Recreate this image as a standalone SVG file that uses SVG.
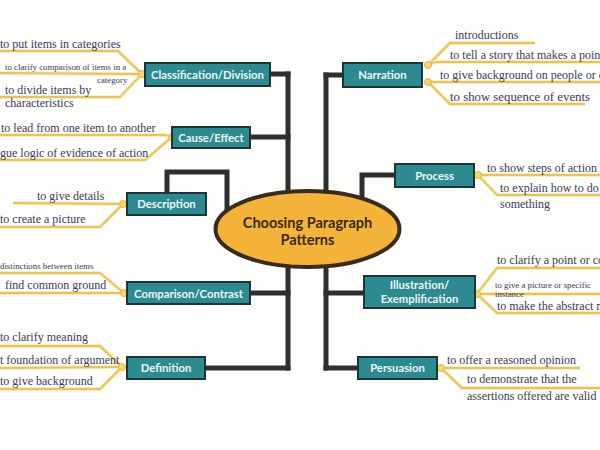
<svg xmlns="http://www.w3.org/2000/svg" width="600" height="450" viewBox="0 0 600 450">
<style>
.bg{fill:#fdfdfc}
.conn{fill:none;stroke:#2e2e2e;stroke-width:5;stroke-linejoin:miter;stroke-linecap:square}
.br{fill:none;stroke:#e5c35f;stroke-width:1.8;stroke-linejoin:round}
.glow{fill:none;stroke:#f8ecc4;stroke-width:4;stroke-linejoin:round}
.jn{fill:#f6d774;stroke:#e0b548;stroke-width:1}
.box{fill:#2c8a90;stroke:#1d3536;stroke-width:2}
.bt{font-family:Lato,"Open Sans",sans-serif;font-weight:bold;font-size:11.3px;fill:#eef7f6;text-anchor:middle}
.t{font-family:"Liberation Serif","Times New Roman",serif;font-size:12px;fill:#3c3c55}
.s{font-family:"Liberation Serif","Times New Roman",serif;font-size:8.8px;fill:#3c3c55}
.ct{font-family:Lato,"Open Sans",sans-serif;font-weight:bold;font-size:14.5px;fill:#3a2a18;text-anchor:middle}
</style>
<rect class="bg" x="0" y="0" width="600" height="450"/>

<g id="connectors">
<path class="conn" d="M288,74 V368"/>
<path class="conn" d="M270,74 H288"/>
<path class="conn" d="M250,137 H288"/>
<path class="conn" d="M250,293 H288"/>
<path class="conn" d="M205,368 H288"/>
<path class="conn" d="M167,193 V172 H227 V208"/>
<path class="conn" d="M326,75 V368"/>
<path class="conn" d="M343,75 H326"/>
<path class="conn" d="M364,293 H326"/>
<path class="conn" d="M358,368 H326"/>
<path class="conn" d="M395,175 H362 V202"/>
</g>

<g id="branches">
<polyline class="glow" points="0,51 118,51 142,74"/>
<polyline class="glow" points="0,73 142,74"/>
<polyline class="glow" points="0,97 120,97 142,74"/>
<polyline class="glow" points="0,135 165,135 172,137"/>
<polyline class="glow" points="0,160 145,160 172,137"/>
<polyline class="glow" points="13,203 123,204"/>
<polyline class="glow" points="0,227 100,227 123,204"/>
<polyline class="glow" points="0,273 100,273 124,293"/>
<polyline class="glow" points="0,293 124,293"/>
<polyline class="glow" points="0,346 100,346 122,367"/>
<polyline class="glow" points="0,368 122,367"/>
<polyline class="glow" points="0,389 100,389 122,367"/>
<polyline class="glow" points="428,65 450,43 535,43"/>
<polyline class="glow" points="428,65 436,62 600,62"/>
<polyline class="glow" points="428,82 600,82"/>
<polyline class="glow" points="428,82 450,104 585,104"/>
<polyline class="glow" points="478,175 600,175"/>
<polyline class="glow" points="478,175 497,195 600,195"/>
<polyline class="glow" points="477,294 497,268 600,268"/>
<polyline class="glow" points="477,294 600,294"/>
<polyline class="glow" points="477,294 497,313 600,313"/>
<polyline class="glow" points="441,368 580,368"/>
<polyline class="glow" points="441,368 462,388 600,388"/>
<polyline class="br" points="0,51 118,51 142,74"/>
<polyline class="br" points="0,73 142,74"/>
<polyline class="br" points="0,97 120,97 142,74"/>
<polyline class="br" points="0,135 165,135 172,137"/>
<polyline class="br" points="0,160 145,160 172,137"/>
<polyline class="br" points="13,203 123,204"/>
<polyline class="br" points="0,227 100,227 123,204"/>
<polyline class="br" points="0,273 100,273 124,293"/>
<polyline class="br" points="0,293 124,293"/>
<polyline class="br" points="0,346 100,346 122,367"/>
<polyline class="br" points="0,368 122,367"/>
<polyline class="br" points="0,389 100,389 122,367"/>
<polyline class="br" points="428,65 450,43 535,43"/>
<polyline class="br" points="428,65 436,62 600,62"/>
<polyline class="br" points="428,82 600,82"/>
<polyline class="br" points="428,82 450,104 585,104"/>
<polyline class="br" points="478,175 600,175"/>
<polyline class="br" points="478,175 497,195 600,195"/>
<polyline class="br" points="477,294 497,268 600,268"/>
<polyline class="br" points="477,294 600,294"/>
<polyline class="br" points="477,294 497,313 600,313"/>
<polyline class="br" points="441,368 580,368"/>
<polyline class="br" points="441,368 462,388 600,388"/>
<circle class="jn" cx="142" cy="74" r="3.5"/>
<circle class="jn" cx="172" cy="137" r="3.5"/>
<circle class="jn" cx="123" cy="204" r="3.5"/>
<circle class="jn" cx="124" cy="293" r="3.5"/>
<circle class="jn" cx="122" cy="367" r="3.5"/>
<circle class="jn" cx="428" cy="65" r="3.5"/>
<circle class="jn" cx="428" cy="82" r="3.5"/>
<circle class="jn" cx="478" cy="175" r="3.5"/>
<circle class="jn" cx="477" cy="294" r="3.5"/>
<circle class="jn" cx="441" cy="368" r="3.5"/>
</g>

<g id="center">
<ellipse cx="307.5" cy="229" rx="92" ry="38" fill="#f4b33a" stroke="#3a2c1c" stroke-width="4"/>
<text class="ct" x="307.5" y="228">Choosing Paragraph</text>
<text class="ct" x="307.5" y="245">Patterns</text>
</g>

<g id="classification">
<rect class="box" x="145" y="63" width="125" height="23"/>
<text class="bt" x="207.5" y="78.5">Classification/Division</text>
<text class="t" x="0" y="48">to put items in categories</text>
<text class="s" x="5" y="70">to clarify comparison of items in a</text>
<text class="s" x="97" y="83">category</text>
<text class="t" x="5" y="94">to divide items by</text>
<text class="t" x="5" y="107">characteristics</text>
</g>

<g id="cause-effect">
<rect class="box" x="172" y="127" width="78" height="21"/>
<text class="bt" x="211" y="141.5">Cause/Effect</text>
<text class="t" x="1" y="132">to lead from one item to another</text>
<text class="t" x="0" y="157">gue logic of evidence of action</text>
</g>

<g id="description">
<rect class="box" x="127" y="193" width="79" height="22"/>
<text class="bt" x="166.5" y="208">Description</text>
<text class="t" x="37" y="200">to give details</text>
<text class="t" x="0" y="223">to create a picture</text>
</g>

<g id="comparison">
<rect class="box" x="127" y="282" width="123" height="22"/>
<text class="bt" x="188.5" y="297.5">Comparison/Contrast</text>
<text class="s" x="0" y="269">distinctions between items</text>
<text class="t" x="5" y="289">find common ground</text>
</g>

<g id="definition">
<rect class="box" x="127" y="357" width="78" height="22"/>
<text class="bt" x="166" y="372">Definition</text>
<text class="t" x="0" y="341">to clarify meaning</text>
<text class="t" x="0" y="364">t foundation of argument</text>
<text class="t" x="0" y="385">to give background</text>
</g>

<g id="narration">
<rect class="box" x="343" y="63" width="79" height="24"/>
<text class="bt" x="382.5" y="79">Narration</text>
<text class="t" x="455" y="39">introductions</text>
<text class="t" x="450" y="59">to tell a story that makes a point</text>
<text class="t" x="440" y="79">to give background on people or e</text>
<text class="t" x="450" y="101" style="font-size:12.8px">to show sequence of events</text>
</g>

<g id="process">
<rect class="box" x="395" y="164" width="79" height="23"/>
<text class="bt" x="434.5" y="179.5">Process</text>
<text class="t" x="487" y="172">to show steps of action</text>
<text class="t" x="500" y="192">to explain how to do</text>
<text class="t" x="500" y="208">something</text>
</g>

<g id="illustration">
<rect class="box" x="364" y="276" width="111" height="32"/>
<text class="bt" x="419.5" y="289">Illustration/</text>
<text class="bt" x="419.5" y="303">Exemplification</text>
<text class="t" x="497" y="264">to clarify a point or co</text>
<text class="s" x="495" y="288">to give a picture or specific</text>
<text class="s" x="495" y="297">instance</text>
<text class="t" x="497" y="310">to make the abstract m</text>
</g>

<g id="persuasion">
<rect class="box" x="358" y="357" width="79" height="22"/>
<text class="bt" x="397.5" y="372">Persuasion</text>
<text class="t" x="447" y="364">to offer a reasoned opinion</text>
<text class="t" x="467" y="383">to demonstrate that the</text>
<text class="t" x="467" y="400">assertions offered are valid</text>
</g>
</svg>
